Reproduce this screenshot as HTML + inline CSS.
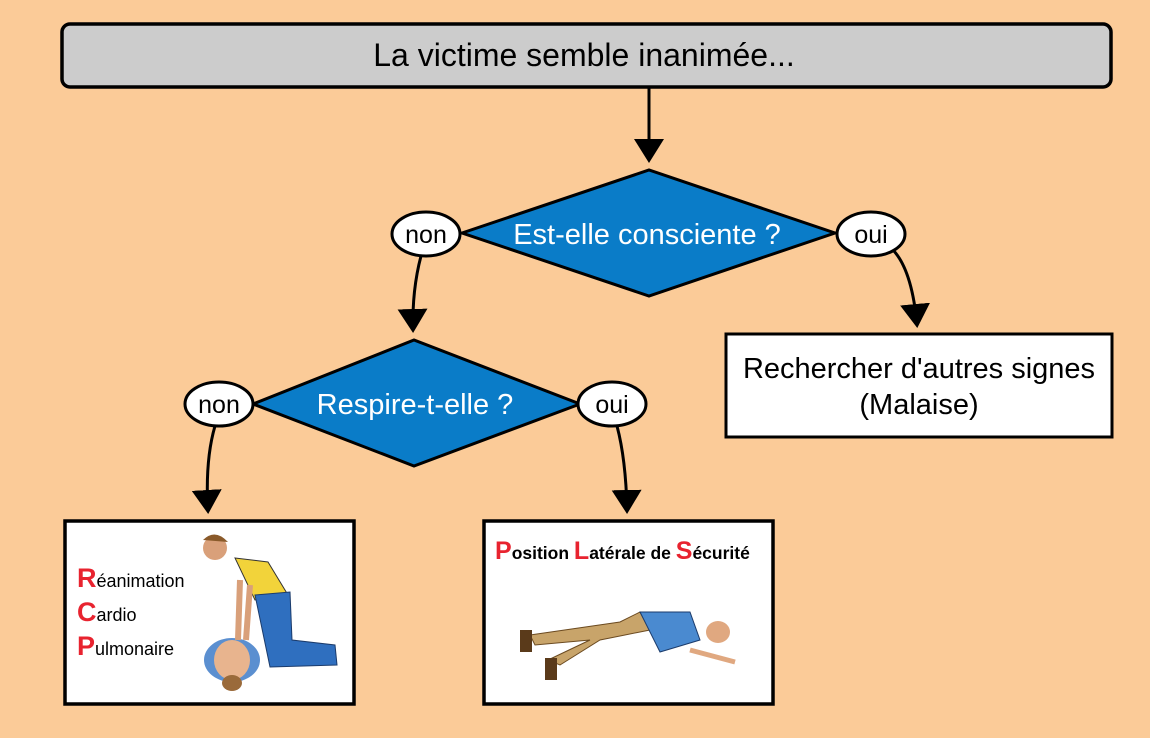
<!DOCTYPE html>
<html><head><meta charset="utf-8"><style>
html,body{margin:0;padding:0;background:#fbcb98;}
svg{display:block;font-family:"Liberation Sans",sans-serif;}
</style></head><body>
<svg width="1150" height="738" viewBox="0 0 1150 738">
<rect width="1150" height="738" fill="#fbcb98"/>
<defs><marker id="a" markerWidth="8" markerHeight="10" refX="7" refY="5" orient="auto" markerUnits="strokeWidth"><path d="M0,0 L8,5 L0,10 z" fill="#000"/></marker></defs>
<rect x="62" y="24" width="1049" height="63" rx="8" fill="#cccccc" stroke="#000" stroke-width="3.5"/>
<text x="584" y="66" font-size="32" text-anchor="middle">La victime semble inanimée...</text>
<path d="M649,88 L649,160" stroke="#000" stroke-width="3" fill="none" marker-end="url(#a)"/>
<polygon points="462,233 649,170 835,233 649,296" fill="#0a7cc8" stroke="#000" stroke-width="3"/>
<text x="647" y="244" font-size="29" fill="#fff" text-anchor="middle">Est-elle consciente ?</text>
<path d="M421,256 Q412,290 413,330" stroke="#000" stroke-width="3" fill="none" marker-end="url(#a)"/>
<path d="M893,250 Q912,270 917,325" stroke="#000" stroke-width="3" fill="none" marker-end="url(#a)"/>
<ellipse cx="426" cy="234" rx="34" ry="22" fill="#fff" stroke="#000" stroke-width="3"/>
<text x="426" y="243" font-size="25" text-anchor="middle">non</text>
<ellipse cx="871" cy="234" rx="34" ry="22" fill="#fff" stroke="#000" stroke-width="3"/>
<text x="871" y="243" font-size="25" text-anchor="middle">oui</text>
<rect x="726" y="334" width="386" height="103" fill="#fff" stroke="#000" stroke-width="3"/>
<text x="919" y="378" font-size="29" text-anchor="middle">Rechercher d'autres signes</text>
<text x="919" y="414" font-size="29" text-anchor="middle">(Malaise)</text>
<polygon points="253,404 414,340 580,404 414,466" fill="#0a7cc8" stroke="#000" stroke-width="3"/>
<text x="415" y="414" font-size="29" fill="#fff" text-anchor="middle">Respire-t-elle ?</text>
<path d="M215,426 Q205,460 208,511" stroke="#000" stroke-width="3" fill="none" marker-end="url(#a)"/>
<path d="M617,426 Q626,460 627,511" stroke="#000" stroke-width="3" fill="none" marker-end="url(#a)"/>
<ellipse cx="219" cy="404" rx="34" ry="22" fill="#fff" stroke="#000" stroke-width="3"/>
<text x="219" y="413" font-size="25" text-anchor="middle">non</text>
<ellipse cx="612" cy="404" rx="34" ry="22" fill="#fff" stroke="#000" stroke-width="3"/>
<text x="612" y="413" font-size="25" text-anchor="middle">oui</text>
<rect x="65" y="521" width="289" height="183" fill="#fff" stroke="#000" stroke-width="3.5"/>
<text x="77" y="587" font-size="18"><tspan fill="#e8232f" font-size="27" font-weight="bold">R</tspan>éanimation</text>
<text x="77" y="621" font-size="18"><tspan fill="#e8232f" font-size="27" font-weight="bold">C</tspan>ardio</text>
<text x="77" y="655" font-size="18"><tspan fill="#e8232f" font-size="27" font-weight="bold">P</tspan>ulmonaire</text>
<!-- CPR figure -->
<ellipse cx="232" cy="660" rx="28" ry="22" fill="#5b8fd0"/>
<ellipse cx="232" cy="660" rx="18" ry="20" fill="#e8b48e"/>
<ellipse cx="232" cy="683" rx="10" ry="8" fill="#9a6a3a"/>
<path d="M235,558 L268,562 L288,595 L255,600 Z" fill="#f2d33a" stroke="#333"/>
<path d="M255,595 L290,592 L292,640 L335,645 L337,665 L270,667 Z" fill="#2f6fbf" stroke="#1b3b6b"/>
<path d="M240,580 L238,640 M250,585 L246,640" stroke="#d9a07a" stroke-width="6"/>
<ellipse cx="215" cy="548" rx="12" ry="12" fill="#d9a07a"/>
<path d="M203,540 Q215,528 228,542" fill="#8a5a2a"/>
<rect x="484" y="521" width="289" height="183" fill="#fff" stroke="#000" stroke-width="3.5"/>
<text x="495" y="559" font-size="17.5" font-weight="bold"><tspan fill="#e8232f" font-size="25">P</tspan>osition <tspan fill="#e8232f" font-size="25">L</tspan>atérale de <tspan fill="#e8232f" font-size="25">S</tspan>écurité</text>
<!-- PLS figure -->
<path d="M530,635 L620,622 L640,612 L650,630 L600,640 L560,665 L548,660 L590,640 L535,645 Z" fill="#c8a46a" stroke="#6b4a20"/>
<path d="M640,612 L690,612 L700,640 L660,652 Z" fill="#4a8ad0" stroke="#1b3b6b"/>
<ellipse cx="718" cy="632" rx="12" ry="11" fill="#e0a880"/>
<path d="M690,650 L735,662" stroke="#e0a880" stroke-width="5"/>
<rect x="520" y="630" width="12" height="22" fill="#5a3a1a"/>
<rect x="545" y="658" width="12" height="22" fill="#5a3a1a"/>
</svg>
</body></html>
